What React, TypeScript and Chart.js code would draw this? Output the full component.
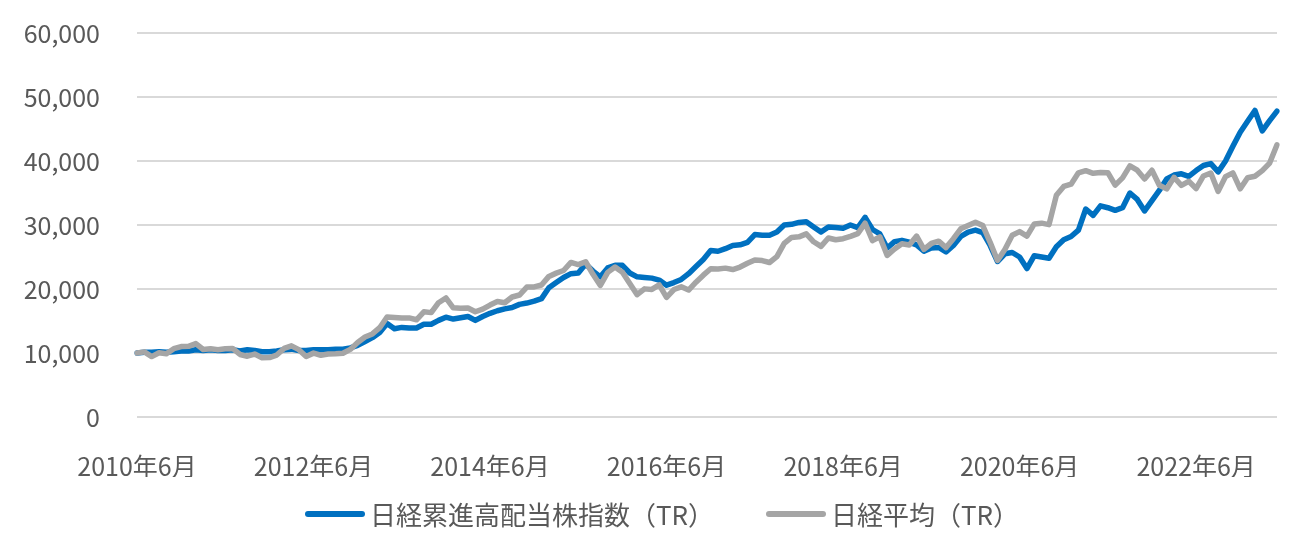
import React, { useEffect, useRef } from "react";
import { Chart, registerables } from "chart.js";

Chart.register(...registerables);

// Monthly categories: 2010年6月 … 2023年5月
const START_YEAR = 2010;
const START_MONTH = 6;
const MONTH_COUNT = 156;
const categories: string[] = [];
for (let i = 0; i < MONTH_COUNT; i++) {
  const t = START_MONTH - 1 + i;
  categories.push(`${START_YEAR + Math.floor(t / 12)}年${(t % 12) + 1}月`);
}

const tickLabels = [
  "2010年6月",
  "2012年6月",
  "2014年6月",
  "2016年6月",
  "2018年6月",
  "2020年6月",
  "2022年6月",
];

const seriesNames = ["日経累進高配当株指数（TR）", "日経平均（TR）"];

// 日経累進高配当株指数（TR）
const aristocratsTR = [
  10000, 10100, 10100, 10200, 10100, 10200, 10300, 10300, 10500, 10400, 10500, 10400, 10400,
  10500, 10300, 10500, 10400, 10200, 10200, 10300, 10500, 10600, 10400, 10400, 10500,
  10500, 10500, 10600, 10600, 10800, 11200, 11800, 12400, 13200, 14600, 13800, 14000,
  13900, 13900, 14500, 14500, 15100, 15600, 15300, 15500, 15700, 15100, 15700, 16200,
  16600, 16900, 17100, 17600,
  17800, 18100, 18500, 20200, 21000, 21800, 22400, 22500, 23900, 22800, 21900, 23300,
  23700, 23700, 22500, 21900, 21800, 21700, 21400, 20600, 21000, 21500, 22400, 23500,
  24600, 26000,
  25900, 26300, 26800, 26900, 27300, 28500, 28400, 28400, 28900, 30000, 30100, 30400,
  30500, 29700, 28900, 29700, 29600, 29500, 30000, 29600, 31200, 29300, 28600, 26400,
  27400, 27600,
  27300, 26900, 25900, 26400, 26500, 25800, 26800, 28200, 28900, 29200, 28800, 26800,
  24300, 25500, 25700, 25000, 23200, 25200, 25000, 24800, 26600, 27700, 28200, 29200,
  32500, 31500,
  33000, 32700, 32300, 32700, 35000, 34000, 32200, 33800, 35400, 37200, 37800, 38000,
  37600, 38500, 39300, 39600, 38300, 40000, 42300, 44500, 46200, 47900, 44700, 46300,
  47800,
];

// 日経平均（TR）
const nikkeiTR = [
  10000, 10180, 9440, 10040, 9870, 10680, 11010,
  11040, 11470, 10550, 10670, 10520, 10670, 10710, 9770, 9500, 9840, 9250, 9280,
  9680, 10710, 11120, 10520, 9460, 9980, 9650, 9830, 9880, 9960, 10560, 11640,
  12490, 12980, 13950, 15620, 15540, 15470, 15480, 15190, 16430, 16310, 17860, 18600,
  17060, 17000, 17020, 16440, 16850, 17490, 18050, 17850, 18750, 19060, 20300, 20330,
  20620, 21970, 22480, 22890, 24150, 23810, 24260, 22300, 20560, 22600, 23430, 22620,
  20860, 19110, 20020, 19940, 20650, 18700, 19920, 20340, 19840, 21060, 22160, 23170,
  23120, 23260, 23040, 23430, 24020, 24530, 24440, 24140, 25050, 27130, 28060, 28150,
  28610, 27380, 26660, 27970, 27690, 27860, 28220, 28650, 30280, 27560, 28150, 25250,
  26250, 27060, 26880, 28270, 26200, 27110, 27470, 26470, 27860, 29410, 29930, 30440,
  29910, 27300, 24460, 26160, 28390, 28970, 28260, 30170, 30290, 30060, 34640, 36030,
  36370, 38150, 38490, 38080, 38200, 38170, 36230, 37370, 39240, 38560, 37190, 38550,
  36220, 35640, 37440, 36190, 36830, 35700, 37660, 38120, 35250, 37560, 38140, 35650,
  37390, 37620, 38490, 39680, 42540,
];

const BLUE = "#0070C0";
const GRAY = "#A5A5A5";
const TEXT = "#595959";
const GRID = "#D9D9D9";
const FONT = '"Noto Sans CJK JP", "Noto Sans", sans-serif';
const colors = [BLUE, GRAY];

export default function App() {
  const ref = useRef<HTMLCanvasElement | null>(null);

  useEffect(() => {
    if (!ref.current) return;
    const chart = new Chart(ref.current, {
      type: "line",
      data: {
        labels: categories,
        datasets: [
          {
            label: seriesNames[0],
            data: aristocratsTR,
            borderColor: BLUE,
            backgroundColor: BLUE,
            borderWidth: 5.5,
            pointRadius: 0,
            tension: 0,
            borderJoinStyle: "round",
            borderCapStyle: "round",
            order: 1,
          },
          {
            label: seriesNames[1],
            data: nikkeiTR,
            borderColor: GRAY,
            backgroundColor: GRAY,
            borderWidth: 5.5,
            pointRadius: 0,
            tension: 0,
            borderJoinStyle: "round",
            borderCapStyle: "round",
            order: 0,
          },
        ],
      },
      options: {
        animation: false,
        responsive: true,
        maintainAspectRatio: false,
        layout: { padding: { top: 25, right: 14, bottom: 55, left: 0 } },
        plugins: {
          legend: { display: false },
          tooltip: { enabled: false },
        },
        scales: {
          x: {
            grid: {
              display: true,
              color: "rgba(0,0,0,0)",
              drawTicks: true,
              tickLength: 31,
              tickColor: "rgba(0,0,0,0)",
            },
            border: { display: false },
            ticks: {
              autoSkip: false,
              maxRotation: 0,
              minRotation: 0,
              padding: 3,
              color: TEXT,
              font: { family: FONT, size: 25 },
              callback: (_v: any, i: number) =>
                tickLabels.includes(categories[i]) ? categories[i] : "",
            },
            afterFit: (s: any) => {
              s.height = 60;
            },
          },
          y: {
            min: 0,
            max: 60000,
            ticks: {
              stepSize: 10000,
              padding: 3,
              color: TEXT,
              font: { family: FONT, size: 25 },
              callback: (v: any) => Number(v).toLocaleString("en-US"),
            },
            grid: {
              color: GRID,
              lineWidth: 2,
              drawTicks: true,
              tickLength: 34,
              tickColor: "rgba(0,0,0,0)",
            },
            border: { display: false },
            afterFit: (s: any) => {
              s.width = 129;
            },
          },
        },
      },
    });
    return () => chart.destroy();
  }, []);

  return (
    <div style={{ position: "relative", width: "100%", height: 524 }}>
      <canvas ref={ref} />
      <div
        style={{
          position: "absolute",
          left: 0,
          right: 0,
          top: 491,
          height: 30,
          display: "flex",
          alignItems: "center",
          justifyContent: "center",
          gap: 52,
          paddingLeft: 25,
          fontFamily: FONT,
          fontSize: 26,
          lineHeight: "30px",
          color: TEXT,
        }}
      >
        {seriesNames.map((name, i) => (
          <div key={name} style={{ display: "flex", alignItems: "center" }}>
            <span
              style={{
                display: "inline-block",
                width: 60,
                height: 6,
                borderRadius: 3,
                background: colors[i],
                marginRight: 5,
              }}
            />
            <span style={{ whiteSpace: "nowrap" }}>{name}</span>
          </div>
        ))}
      </div>
    </div>
  );
}
